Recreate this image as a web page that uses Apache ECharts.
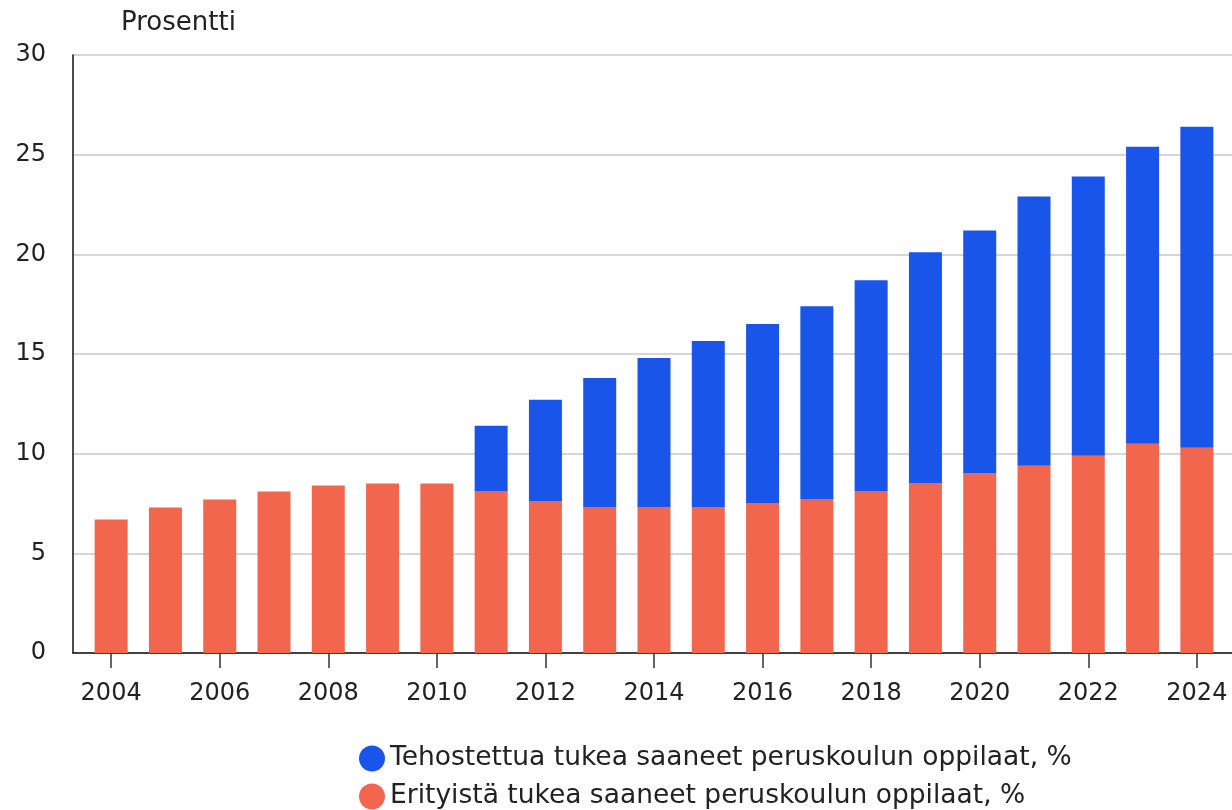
<!DOCTYPE html>
<html>
<head>
<meta charset="utf-8">
<script src="https://cdn.jsdelivr.net/npm/echarts@6/dist/echarts.min.js"></script>
<style>
  html, body { margin: 0; padding: 0; background: #fff; }
  #chart { width: 1232px; height: 810px; }
</style>
</head>
<body>
<div id="chart"></div>
<script>
// vuodet
const years = ['2004', '2005', '2006', '2007', '2008', '2009', '2010', '2011', '2012', '2013', '2014',
  '2015', '2016', '2017', '2018', '2019', '2020', '2021', '2022', '2023', '2024']
// erityinen tuki, %
const erityista = [6.7, 7.3, 7.7, 8.1, 8.4, 8.5, 8.5, 8.1, 7.6, 7.3, 7.3,
  7.3, 7.5, 7.7, 8.1, 8.5, 9.0, 9.4, 9.9, 10.5, 10.3]
// tehostettu tuki, % (pinottuna erityisen tuen päälle)
const tehostettua = [null, null, null, null, null, null, null, 3.3, 5.1, 6.5, 7.5,
  8.35, 9.0, 9.7, 10.6, 11.6, 12.2, 13.5, 14.0, 14.9, 16.1]
const yTicks = [0, 5, 10, 15, 20, 25, 30]

const nameBlue = 'Tehostettua tukea saaneet peruskoulun oppilaat, %'
const nameRed = 'Erityistä tukea saaneet peruskoulun oppilaat, %'
const font = 'DejaVu Sans'
const legendText = { fontFamily: font, fontSize: 26.5, color: '#222' }
const axisColor = '#111'

const chart = echarts.init(document.getElementById('chart'))
chart.setOption({
  animation: false,
  textStyle: { fontFamily: font },
  title: {
    text: 'Prosentti',
    left: 116,
    top: 5,
    textStyle: { fontFamily: font, fontSize: 26, fontWeight: 'normal', color: '#222' }
  },
  legend: [
    {
      left: 354, top: 740, icon: 'circle', itemWidth: 26, itemHeight: 26, itemGap: 10,
      data: [nameBlue], textStyle: legendText
    },
    {
      left: 354, top: 778, icon: 'circle', itemWidth: 26, itemHeight: 26, itemGap: 10,
      data: [nameRed], textStyle: legendText
    }
  ],
  // grid 0: akselit ja apuviivat, grid 1: pylväät
  grid: [
    { left: 73, right: 0, top: 55, bottom: 157 },
    { left: 84, right: 8, top: 55, bottom: 157 }
  ],
  xAxis: [
    {
      gridIndex: 0,
      type: 'value',
      min: 0,
      max: 1,
      axisLine: { show: true, lineStyle: { color: axisColor, width: 1.5 } },
      axisTick: { show: false },
      axisLabel: { show: false },
      splitLine: { show: false }
    },
    {
      gridIndex: 1,
      type: 'category',
      data: years,
      axisLine: { show: false },
      axisTick: { show: true, length: 15, interval: 1, alignWithLabel: true, lineStyle: { color: '#333', width: 1.5 } },
      axisLabel: { interval: 1, fontSize: 24, color: '#222', margin: 29, fontFamily: font },
      splitLine: { show: false }
    }
  ],
  yAxis: [
    {
      gridIndex: 0,
      type: 'value',
      min: 0,
      max: 30,
      interval: 5,
      axisLine: { show: true, lineStyle: { color: axisColor, width: 1.5 } },
      axisTick: { show: false },
      axisLabel: { fontSize: 24, color: '#222', margin: 27, fontFamily: font },
      splitLine: { lineStyle: { color: '#c8c8c8', width: 1.5 } }
    },
    {
      gridIndex: 1,
      type: 'value',
      min: 0,
      max: 30,
      interval: 5,
      show: false
    }
  ],
  series: [
    {
      name: nameRed,
      type: 'bar',
      stack: 'tuki',
      xAxisIndex: 1,
      yAxisIndex: 1,
      barWidth: 33,
      itemStyle: { color: '#f2664e' },
      data: erityista
    },
    {
      name: nameBlue,
      type: 'bar',
      stack: 'tuki',
      xAxisIndex: 1,
      yAxisIndex: 1,
      barWidth: 33,
      itemStyle: { color: '#1a55ea' },
      data: tehostettua
    }
  ]
})
</script>
</body>
</html>
